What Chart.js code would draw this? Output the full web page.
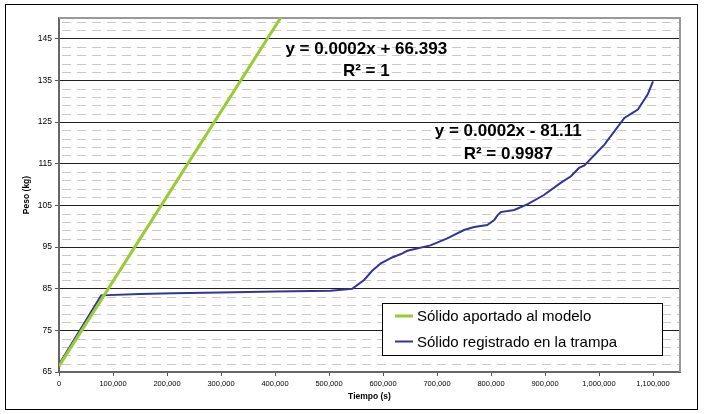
<!DOCTYPE html>
<html>
<head>
<meta charset="utf-8">
<script src="https://cdn.jsdelivr.net/npm/chart.js@4"></script>
<style>
  html, body { margin: 0; padding: 0; background: #fff; }
  #wrap { width: 704px; height: 414px; }
</style>
</head>
<body>
<div id="wrap"><canvas id="chart" width="704" height="414"></canvas></div>
<script>
// tick values
const xTicks = [0, 100000, 200000, 300000, 400000, 500000, 600000, 700000, 800000, 900000, 1000000, 1100000];
const yTicks = [65, 75, 85, 95, 105, 115, 125, 135, 145];

// series
const modelTime = [0, 420000];
const modelWeight = [66.4, 152];

const trapTime = [0, 78000, 150000, 211000, 300000, 400000, 503000, 543000, 565000, 580000, 596000, 617000,
  636000, 645000, 688000, 719000, 750000, 769000, 793000, 806000, 812000, 818000, 843000, 868000, 898000,
  929000, 948000, 963000, 973000, 1010000, 1047000, 1062000, 1072000, 1090000, 1100000];
const trapWeight = [66.8, 83.4, 83.7, 83.9, 84.1, 84.3, 84.5, 85.0, 87.1, 89.3, 91.1, 92.5,
  93.5, 94.1, 95.4, 97.1, 99.1, 99.8, 100.3, 101.5, 102.6, 103.4, 103.9, 105.3, 107.5,
  110.4, 112.0, 114.0, 114.6, 119.6, 126.0, 127.2, 128.0, 131.6, 134.8];

const seriesNames = ["Sólido aportado al modelo", "Sólido registrado en la trampa"];
const seriesColors = ["#99cc33", "#333399"];

// trend line labels (x, y in data units)
const trendLabels = [
  { x: 569000, y: 142.6, text: "y = 0.0002x + 66.393" },
  { x: 569000, y: 137.2, text: "R² = 1" },
  { x: 832000, y: 122.8, text: "y = 0.0002x - 81.11" },
  { x: 832000, y: 117.2, text: "R² = 0.9987" },
];

const FONT = "'Liberation Sans', Arial, sans-serif";

const toPoints = (xs, ys) => xs.map((x, i) => ({ x, y: ys[i] }));

const frame = {
  id: "frame",
  beforeDraw(chart) {
    const { ctx, width, height } = chart;
    ctx.save();
    ctx.fillStyle = "#fff";
    ctx.fillRect(0, 0, width, height);
    ctx.strokeStyle = "#000";
    ctx.lineWidth = 1;
    ctx.strokeRect(5.5, 4.5, 692, 405);
    ctx.restore();
  },
  beforeDatasetsDraw(chart) {
    const { ctx, chartArea: a, scales: { y } } = chart;
    ctx.save();
    ctx.strokeStyle = "#c8c8c8";
    ctx.lineWidth = 1;
    ctx.setLineDash([9, 6]);
    for (let v = 67; v < 150; v += 2) {
      if ((v - 65) % 10 === 0) continue;
      const py = Math.round(y.getPixelForValue(v)) + 0.5;
      ctx.beginPath();
      ctx.moveTo(a.left + 3, py);
      ctx.lineTo(a.right, py);
      ctx.stroke();
    }
    ctx.setLineDash([]);
    ctx.strokeStyle = "#999";
    ctx.lineWidth = 2;
    ctx.beginPath();
    ctx.moveTo(a.left, a.top);
    ctx.lineTo(a.right, a.top);
    ctx.lineTo(a.right, a.bottom);
    ctx.stroke();
    ctx.restore();
  },
  afterDraw(chart) {
    const { ctx, scales: { x, y } } = chart;
    ctx.save();
    ctx.fillStyle = "#000";
    ctx.font = "bold 17px " + FONT;
    ctx.textAlign = "center";
    ctx.textBaseline = "middle";
    trendLabels.forEach((l) => {
      ctx.fillText(l.text, x.getPixelForValue(l.x), y.getPixelForValue(l.y));
    });

    // legend box
    ctx.fillStyle = "#fff";
    ctx.fillRect(382, 303, 280, 52);
    ctx.strokeStyle = "#000";
    ctx.lineWidth = 1;
    ctx.strokeRect(382.5, 303.5, 280, 52);
    ctx.font = "15px " + FONT;
    ctx.textAlign = "left";
    chart.data.datasets.forEach((ds, i) => {
      const ly = 316 + i * 25.5;
      ctx.strokeStyle = ds.borderColor;
      ctx.lineWidth = ds.borderWidth;
      ctx.beginPath();
      ctx.moveTo(395, ly);
      ctx.lineTo(413, ly);
      ctx.stroke();
      ctx.fillStyle = "#000";
      ctx.fillText(ds.label, 417, ly + 1);
    });
    ctx.restore();
  },
};

new Chart(document.getElementById("chart"), {
  type: "scatter",
  data: {
    datasets: [
      {
        label: seriesNames[0],
        data: toPoints(modelTime, modelWeight),
        borderColor: seriesColors[0],
        backgroundColor: seriesColors[0],
        borderWidth: 3,
        showLine: true,
        pointRadius: 0,
        tension: 0,
      },
      {
        label: seriesNames[1],
        data: toPoints(trapTime, trapWeight),
        borderColor: seriesColors[1],
        backgroundColor: seriesColors[1],
        borderWidth: 2,
        showLine: true,
        pointRadius: 0,
        tension: 0,
      },
    ],
  },
  options: {
    responsive: false,
    animation: false,
    events: [],
    layout: { padding: { left: 0, top: 18, right: 24, bottom: 0 } },
    plugins: { legend: { display: false }, tooltip: { enabled: false } },
    scales: {
      x: {
        type: "linear",
        min: 0,
        max: 1150000,
        afterBuildTicks: (s) => { s.ticks = xTicks.map((v) => ({ value: v })); },
        afterFit: (s) => { s.height = 42; },
        grid: { drawOnChartArea: false, drawTicks: true, tickLength: 4, tickColor: "#555", tickWidth: 1 },
        border: { color: "#666", width: 2 },
        ticks: {
          autoSkip: false,
          maxRotation: 0,
          padding: 3,
          color: "#000",
          font: { family: FONT, size: 7.5 },
          callback: (v) => v.toLocaleString("en-US"),
        },
        title: {
          display: true,
          text: "Tiempo (s)",
          color: "#000",
          font: { family: FONT, size: 8.5, weight: "bold" },
          padding: { top: 0, bottom: 12 },
        },
      },
      y: {
        type: "linear",
        min: 65,
        max: 150,
        afterBuildTicks: (s) => { s.ticks = yTicks.map((v) => ({ value: v })); },
        afterFit: (s) => { s.width = 59; },
        grid: { color: "#222", lineWidth: 1, drawTicks: true, tickLength: 4, tickColor: "#555" },
        border: { color: "#666", width: 2 },
        ticks: {
          padding: 3,
          color: "#000",
          font: { family: FONT, size: 8.5 },
        },
        title: {
          display: true,
          text: "Peso (kg)",
          color: "#000",
          font: { family: FONT, size: 8.5, weight: "bold" },
          padding: { top: 22, bottom: 0 },
        },
      },
    },
  },
  plugins: [frame],
});
</script>
</body>
</html>
